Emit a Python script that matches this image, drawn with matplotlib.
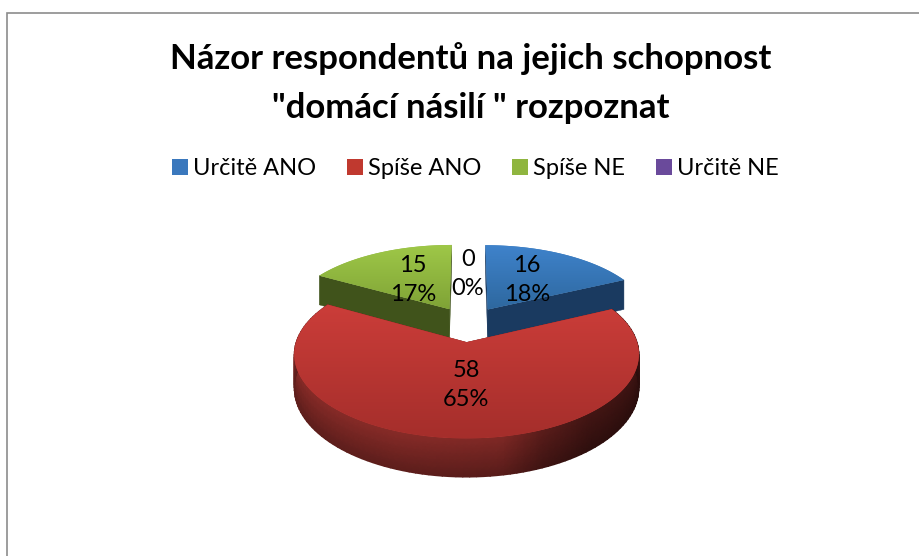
import numpy as np
import matplotlib
matplotlib.use('Agg')
import matplotlib.pyplot as plt
from matplotlib.colors import to_rgb
from matplotlib.patches import Patch, Polygon

plt.rcParams['font.family'] = ['Lato', 'DejaVu Sans']

title = 'Názor respondentů na jejich schopnost\n"domácí násilí " rozpoznat'
categories = ['Určitě ANO', 'Spíše ANO', 'Spíše NE', 'Určitě NE']
values = [16, 58, 15, 0]
colors = ['#3a78bd', '#c0392f', '#8fb53f', '#6a4a9b']
top_from = ['#3f83cc', '#cb3d39', '#9fc848', '#7d5bb0']
top_to = ['#2e689f', '#a52e2b', '#7fa336', '#5c4088']
wall = ['#1a3a60', '#7a2320', '#40531b', '#38275a']
label_pos = [(527, 280), (466, 385), (413, 280), (468, 274)]

# geometrie kolace (pixely obrazku)
cx, cy = 468, 324
a, b = 165, 77
k = 0.14        # perspektiva
explode = 0.23
depth = 32

fig = plt.figure(figsize=(9.2, 5.56), dpi=100)
ax = fig.add_axes([0, 0, 1, 1])


def project(u, v, drop=0.0):
    w = 1 + k * v
    return cx + a * u / w, cy - b * v / w + drop * depth / w


def mix(c1, c2, t):
    c1, c2 = np.array(to_rgb(c1)), np.array(to_rgb(c2))
    return c1 + (c2 - c1) * t


# uhly od 12 hodin po smeru hodin
total = sum(values)
angles = np.cumsum([0] + values) / total * 2 * np.pi

# ramecek
ax.plot([7.5, 7.5, 920], [556, 12.5, 12.5], color='#8c8c8c', lw=1.2, solid_joinstyle='miter')

# zadni vyseky driv, cervena az nakonec
for order, i in enumerate([2, 0, 1]):
    z = 1 + order
    start, end = angles[i], angles[i + 1]
    mid = (start + end) / 2
    off_u, off_v = explode * np.sin(mid), explode * np.cos(mid)
    t = np.linspace(start, end, 120)
    u = off_u + np.sin(t)
    v = off_v + np.cos(t)

    # rezy
    for ang in (start, end):
        x1, y1 = project(off_u, off_v)
        x2, y2 = project(off_u + np.sin(ang), off_v + np.cos(ang))
        x3, y3 = project(off_u + np.sin(ang), off_v + np.cos(ang), 1)
        x4, y4 = project(off_u, off_v, 1)
        ax.add_patch(Polygon([(x1, y1), (x2, y2), (x3, y3), (x4, y4)],
                             facecolor=wall[i], edgecolor=wall[i], lw=0.3, zorder=z))

    # vnejsi stena, jen pro cervenou je videt
    if i == 1:
        rows = np.linspace(0, 1, 6)
        X = np.array([project(u, v, r)[0] for r in rows])
        Y = np.array([project(u, v, r)[1] for r in rows])
        pos = (X[0] - 295) / 345
        base = np.interp(pos, [0, 0.3, 0.6, 0.72, 0.85, 1], [0.66, 0.66, 0.62, 0.44, 0.33, 0.30])
        shade = base[None, :] * (1.02 - 0.32 * rows[:, None])
        C = np.clip(shade[..., None] * np.array(to_rgb('#c9403b')), 0, 1)
        ax.pcolormesh(X, Y, C, shading='gouraud', zorder=z)

    # horni plocha s prechodem
    xs, ys = project(np.r_[off_u, u], np.r_[off_v, v])
    top = Polygon(np.c_[xs, ys], facecolor=mix(top_from[i], top_to[i], 0.5),
                  edgecolor='none', zorder=z + 0.1)
    ax.add_patch(top)
    grad = np.array([mix(top_from[i], top_to[i], s) for s in np.linspace(0, 1, 128)])[:, None, :]
    im = ax.imshow(grad, extent=(xs.min(), xs.max(), ys.max(), ys.min()), aspect='auto',
                   interpolation='bilinear', zorder=z + 0.2)
    im.set_clip_path(top)

# popisky
for val, pos in zip(values, label_pos):
    ax.text(pos[0], pos[1], f'{val}\n{val / total * 100:.0f}%', ha='center', va='center',
            fontsize=17, color='black', linespacing=1.45, zorder=5)

ax.text(471, 83, title, ha='center', va='center', fontsize=25, fontweight='bold',
        color='black', linespacing=1.62, zorder=5)

handles = [Patch(facecolor=c, edgecolor='none') for c in colors]
ax.legend(handles, categories, ncol=4, loc='center', bbox_to_anchor=(475.5 / 920, 1 - 168.5 / 556),
          frameon=False, fontsize=17, handlelength=0.68, handleheight=0.68, handletextpad=0.22,
          columnspacing=1.3, borderpad=0, labelcolor='black')

ax.set_xlim(0, 920)
ax.set_ylim(556, 0)
ax.axis('off')

fig.savefig('out.png', dpi=100)
